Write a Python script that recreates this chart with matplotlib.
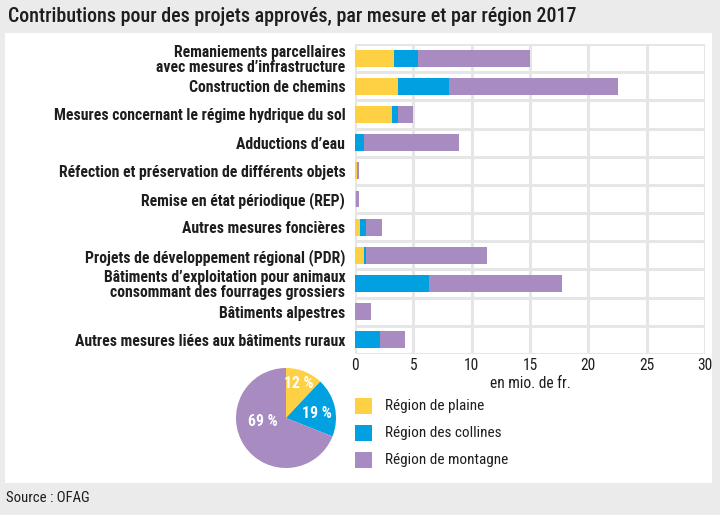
import numpy as np
import matplotlib.pyplot as plt
from matplotlib import font_manager as fm
from matplotlib.patches import Rectangle

# data
categories = [
    "Remaniements parcellaires\navec mesures d\u2019infrastructure",
    "Construction de chemins",
    "Mesures concernant le régime hydrique du sol",
    "Adductions d\u2019eau",
    "Réfection et préservation de différents objets",
    "Remise en état périodique (REP)",
    "Autres mesures foncières",
    "Projets de développement régional (PDR)",
    "Bâtiments d\u2019exploitation pour animaux\nconsommant des fourrages grossiers",
    "Bâtiments alpestres",
    "Autres mesures liées aux bâtiments ruraux",
]
plaine = [3.3, 3.7, 3.2, 0.0, 0.15, 0.05, 0.4, 0.8, 0.0, 0.0, 0.0]
collines = [2.1, 4.35, 0.5, 0.8, 0.0, 0.0, 0.55, 0.15, 6.3, 0.0, 2.15]
montagne = [9.6, 14.5, 1.25, 8.1, 0.2, 0.3, 1.4, 10.35, 11.4, 1.35, 2.15]
regions = ["Région de plaine", "Région des collines", "Région de montagne"]
pie_share = [12, 19, 69]
xticks = [0, 5, 10, 15, 20, 25, 30]

colors = ["#FED044", "#00A0E1", "#A78BC1"]
bg = "#EBEBEB"
txt = "#1E1E1E"
W, H = 720, 515

# condensed font if there is one, else a listed one a bit smaller
installed = {f.name for f in fm.fontManager.ttflist}
font, k = "DejaVu Sans", 0.8
for name in ["Roboto Condensed", "Fira Sans Condensed", "Liberation Sans Narrow"]:
    if name in installed:
        font, k = name, 1.0
        break
plt.rcParams['font.family'] = [font, 'DejaVu Sans']

fig = plt.figure(figsize=(W / 100, H / 100), dpi=100, facecolor=bg)

def box(x0, y0, x1, y1):
    return [x0 / W, 1 - y1 / H, (x1 - x0) / W, (y1 - y0) / H]

# white panel
fig.patches.append(Rectangle((5 / W, 1 - 483 / H), 707 / W, 450 / H,
                             transform=fig.transFigure, facecolor="white",
                             edgecolor="none", zorder=-5))
fig.text(8 / W, 1 - 16 / H, "Contributions pour des projets approvés, par mesure et par région 2017",
         fontsize=14.4 * k, color=txt, va="center", ha="left", fontweight="medium")
fig.text(6 / W, 1 - 498 / H, "Source : OFAG", fontsize=10.6 * k, color=txt,
         va="center", ha="left")

# bars
ax = fig.add_axes(box(355, 44, 705, 354))
ax.set_facecolor("none")
y = np.arange(len(categories))
p = np.array(plaine)
c = np.array(collines)
m = np.array(montagne)
ax.barh(y, p, height=0.6, color=colors[0], zorder=3)
ax.barh(y, c, left=p, height=0.6, color=colors[1], zorder=3)
ax.barh(y, m, left=p + c, height=0.6, color=colors[2], zorder=3)
ax.set_ylim(len(categories) - 0.5, -0.5)
ax.set_xlim(0, 30)
ax.set_xticks(xticks)
ax.set_xticklabels([str(t) for t in xticks], fontsize=11.2 * k, color=txt)
ax.set_yticks(y)
ax.set_yticklabels(categories, fontsize=11.3 * k, fontweight="bold", color=txt,
                   linespacing=1.0)
ax.set_yticks(np.arange(len(categories) + 1) - 0.5, minor=True)
ax.tick_params(axis="both", which="both", length=0)
ax.tick_params(axis="y", pad=7)
ax.tick_params(axis="x", pad=3)
ax.grid(True, which="minor", axis="y", color="#E6E6E6", linewidth=2.2, zorder=0)
ax.grid(True, which="major", axis="x", color="#E6E6E6", linewidth=2.2, zorder=0)
for s in ax.spines.values():
    s.set_visible(False)
ax.set_xlabel("en mio. de fr.", fontsize=11.2 * k, color=txt, labelpad=2)

# pie
pax = fig.add_axes(box(236, 368, 336, 468))
pax.pie(pie_share, colors=colors, startangle=90, counterclock=False, radius=1)
pax.set_xlim(-1, 1)
pax.set_ylim(-1, 1)
pax.set_aspect("equal")
label_pos = [(0.25, 0.7), (0.62, 0.08), (-0.47, -0.07)]
for v, (lx, ly) in zip(pie_share, label_pos):
    pax.text(lx, ly, f"{v} %", color="white", fontsize=11.3 * k, fontweight="bold",
             ha="center", va="center")

# legend
for i, (lab, col) in enumerate(zip(regions, colors)):
    yc = 406 + i * 27
    fig.patches.append(Rectangle((355 / W, 1 - (yc + 8) / H), 17 / W, 16 / H,
                                 transform=fig.transFigure, facecolor=col,
                                 edgecolor="none"))
    fig.text(385 / W, 1 - yc / H, lab, fontsize=11 * k, color=txt,
             va="center", ha="left")

fig.savefig("out.png", dpi=100, facecolor=bg)
